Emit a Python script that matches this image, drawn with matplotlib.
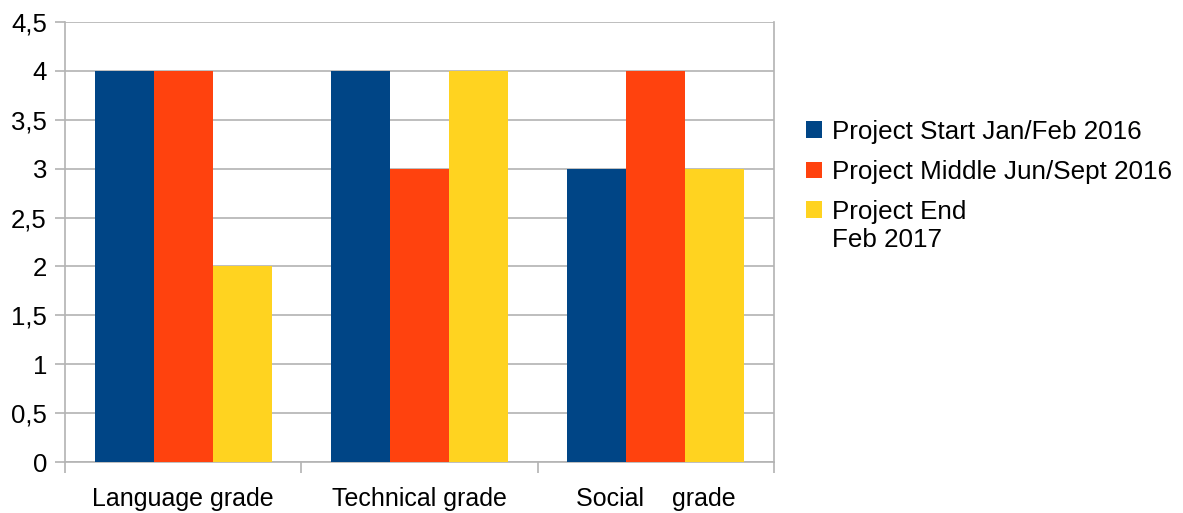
import matplotlib
matplotlib.use("Agg")
import matplotlib.pyplot as plt
from matplotlib.patches import Rectangle
from matplotlib.legend_handler import HandlerPatch
import numpy as np

categories = ["Language grade", "Technical grade", "Social    grade"]
series_names = ["Project Start Jan/Feb 2016",
                "Project Middle Jun/Sept 2016",
                "Project End\nFeb 2017"]
start_vals = [4, 4, 3]
middle_vals = [4, 3, 4]
end_vals = [2, 4, 3]
colors = ["#004586", "#ff420e", "#ffd320"]
y_ticks = [0, 0.5, 1, 1.5, 2, 2.5, 3, 3.5, 4, 4.5]

plt.rcParams["font.family"] = ["Liberation Sans", "DejaVu Sans"]

fig = plt.figure(figsize=(11.83, 5.13), dpi=100)
ax = fig.add_axes([65 / 1183, 1 - 462 / 513, (774 - 65) / 1183, (462 - 22) / 513])

x = np.arange(len(categories))
w = 0.25
grid_col = "#b3b3b3"
bars = []
for i, (vals, name) in enumerate(zip([start_vals, middle_vals, end_vals], series_names)):
    bars.append(ax.bar(x + (i - 1) * w, vals, width=w, color=colors[i], label=name, zorder=3))

ax.set_xlim(-0.5, 2.5)
ax.set_ylim(0, 4.5)
ax.set_yticks(y_ticks)
ax.set_yticklabels([f"{v:g}".replace(".", ",") for v in y_ticks], fontsize=18.5)
ax.set_xticks(x)
ax.set_xticklabels(categories, fontsize=18)
ax.set_xticks([-0.5, 0.5, 1.5, 2.5], minor=True)
ax.tick_params(axis="x", which="major", length=0, pad=18)
ax.tick_params(axis="x", which="minor", length=8, width=1.2, color=grid_col, direction="out")
ax.tick_params(axis="y", length=7, width=1.2, color=grid_col, pad=6)
ax.yaxis.grid(True, color=grid_col, linewidth=1.2, zorder=0)
ax.set_axisbelow(True)
for s in ["left", "right", "bottom"]:
    ax.spines[s].set_color(grid_col)
    ax.spines[s].set_linewidth(1.2)
ax.spines["top"].set_visible(False)


def top_aligned_square(legend, orig_handle, xdescent, ydescent, width, height, fontsize):
    # keep the swatch level with the first line of a two-line label
    return Rectangle((-xdescent, -ydescent + 12.5), width, height)


handles = [b.patches[0] for b in bars]
handler_map = {handles[2]: HandlerPatch(patch_func=top_aligned_square)}

fig.legend(handles=handles, labels=series_names, handler_map=handler_map,
           loc="upper left", bbox_to_anchor=(806 / 1183, 1 - 120 / 513),
           frameon=False, fontsize=18.7, handlelength=0.62, handleheight=0.62,
           handletextpad=0.4, labelspacing=0.62, borderaxespad=0, borderpad=0)

fig.savefig("out.png", dpi=100)
